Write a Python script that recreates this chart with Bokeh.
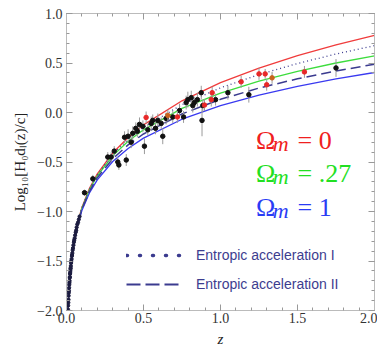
from bokeh.plotting import figure
from bokeh.models import (Range1d, LinearAxis, Label, Legend, LegendItem,
                          CustomJSTickFormatter, SingleIntervalTicker, ColumnDataSource)
from bokeh.embed import file_html
from bokeh.resources import INLINE

# ---- model curves ----
z_curve = [0.01, 0.015, 0.02, 0.03, 0.04, 0.05, 0.07, 0.1, 0.15, 0.2, 0.3, 0.4, 0.5,
           0.75, 1.0, 1.25, 1.5, 1.75, 2.0]
red_curve = [-1.996, -1.817, -1.690, -1.510, -1.381, -1.280, -1.126, -0.959, -0.763, -0.620,
             -0.409, -0.252, -0.125, 0.118, 0.301, 0.449, 0.574, 0.682, 0.778]
green_curve = [-1.997, -1.819, -1.692, -1.513, -1.384, -1.284, -1.132, -0.968, -0.777, -0.639,
               -0.438, -0.291, -0.175, 0.041, 0.196, 0.317, 0.416, 0.500, 0.571]
blue_curve = [-1.999, -1.822, -1.697, -1.520, -1.394, -1.296, -1.148, -0.990, -0.809, -0.680,
              -0.495, -0.363, -0.259, -0.068, 0.069, 0.176, 0.264, 0.339, 0.404]
ent1_curve = [-1.996, -1.818, -1.691, -1.511, -1.383, -1.282, -1.129, -0.963, -0.770, -0.629,
              -0.423, -0.272, -0.150, 0.079, 0.249, 0.383, 0.495, 0.591, 0.675]
ent2_curve = [-1.998, -1.821, -1.695, -1.516, -1.389, -1.290, -1.140, -0.979, -0.793, -0.659,
              -0.467, -0.327, -0.217, -0.014, 0.133, 0.247, 0.340, 0.419, 0.488]

# ---- data points ----
z_low = [0.010, 0.011, 0.012, 0.013, 0.014, 0.015, 0.016, 0.017, 0.018, 0.019, 0.020, 0.021,
         0.022, 0.023, 0.024, 0.025, 0.026, 0.027, 0.028, 0.030, 0.031, 0.033, 0.035, 0.036,
         0.038, 0.040, 0.042, 0.045, 0.048, 0.050, 0.053, 0.056, 0.060, 0.063, 0.066, 0.070,
         0.075, 0.080, 0.085]
v_low = [-1.99, -1.95, -1.92, -1.89, -1.85, -1.82, -1.80, -1.77, -1.74, -1.72, -1.70, -1.67,
         -1.66, -1.63, -1.62, -1.60, -1.58, -1.57, -1.55, -1.52, -1.50, -1.48, -1.45, -1.44,
         -1.42, -1.39, -1.37, -1.34, -1.31, -1.29, -1.27, -1.24, -1.21, -1.19, -1.16, -1.13,
         -1.11, -1.08, -1.05]
e_low = [0.02] * len(z_low)

z_black = [0.117, 0.171, 0.268, 0.29, 0.31, 0.333, 0.34, 0.388, 0.377, 0.40, 0.42, 0.43, 0.45,
           0.46, 0.474, 0.496, 0.506, 0.528, 0.55, 0.56, 0.578, 0.593, 0.615, 0.625, 0.647,
           0.69, 0.734, 0.76, 0.777, 0.788, 0.81, 0.82, 0.83, 0.85, 0.875, 0.885, 0.88, 0.968,
           1.048, 1.184, 1.75]
v_black = [-0.81, -0.67, -0.45, -0.45, -0.39, -0.50, -0.53, -0.48, -0.25, -0.24, -0.30, -0.21,
           -0.16, -0.19, -0.12, -0.14, -0.34, -0.175, -0.11, -0.08, -0.16, -0.08, -0.11, -0.24,
           -0.06, -0.045, 0.02, -0.045, 0.10, 0.13, 0.15, 0.07, 0.10, 0.13, 0.20, 0.07, -0.08,
           0.13, 0.20, 0.18, 0.45]
e_black = [0.03, 0.04, 0.05, 0.05, 0.05, 0.05, 0.05, 0.06, 0.06, 0.07, 0.06, 0.07, 0.06, 0.06,
           0.07, 0.06, 0.08, 0.06, 0.07, 0.06, 0.06, 0.07, 0.06, 0.08, 0.06, 0.06, 0.07, 0.06,
           0.07, 0.08, 0.07, 0.07, 0.06, 0.07, 0.07, 0.06, 0.16, 0.06, 0.07, 0.08, 0.09]

z_red = [0.517, 0.72, 0.896, 0.94, 0.946, 1.134, 1.25, 1.29, 1.30, 1.545]
v_red = [-0.05, -0.045, 0.075, 0.13, 0.20, 0.31, 0.39, 0.39, 0.28, 0.41]
e_red = [0.06, 0.06, 0.06, 0.07, 0.06, 0.06, 0.06, 0.05, 0.06, 0.06]

z_orange = [0.658, 1.335]
v_orange = [-0.03, 0.35]
e_orange = [0.06, 0.06]

SERIF = "Liberation Serif"
SANS = "Liberation Sans"

p = figure(width=377, height=349, x_range=Range1d(0, 2), y_range=Range1d(-2, 1),
           output_backend="svg", toolbar_location=None,
           min_border_left=66, min_border_right=3, min_border_top=13, min_border_bottom=28)
p.background_fill_color = "white"
p.border_fill_color = "white"
p.grid.visible = False
p.outline_line_color = "#bbbbbb"

fmt = CustomJSTickFormatter(code="return tick.toFixed(1).replace('-', '\\u2212');")
blank = CustomJSTickFormatter(code="return '';")

for ax in (p.xaxis[0], p.yaxis[0]):
    ax.ticker = SingleIntervalTicker(interval=0.5, num_minor_ticks=5)
    ax.formatter = fmt
    ax.major_label_text_font = SERIF
    ax.major_label_text_font_size = "14px"
    ax.major_label_text_color = "#333333"
    ax.axis_line_color = "#bbbbbb"
    ax.major_tick_line_color = "#999999"
    ax.minor_tick_line_color = "#999999"
    ax.major_tick_in = 6
    ax.major_tick_out = 0
    ax.minor_tick_in = 3
    ax.minor_tick_out = 0
    ax.axis_label_text_font = SERIF
    ax.axis_label_text_font_style = "normal"
    ax.axis_label_text_color = "#222222"
    ax.axis_label_text_font_size = "15px"

p.xaxis[0].major_label_standoff = 2
p.xaxis[0].axis_label = "z"
p.xaxis[0].axis_label_standoff = 5
p.xaxis[0].axis_label_text_font_style = "italic"
p.yaxis[0].major_label_standoff = 4
p.yaxis[0].axis_label = "Log₁₀[H₀dₗ(z)/c]"
p.yaxis[0].axis_label_standoff = 6

for loc in ("right", "above"):
    ax = LinearAxis(ticker=SingleIntervalTicker(interval=0.5, num_minor_ticks=5),
                    formatter=blank, axis_line_color="#bbbbbb",
                    major_tick_line_color="#999999", minor_tick_line_color="#999999",
                    major_tick_in=6, major_tick_out=0, minor_tick_in=3, minor_tick_out=0,
                    major_label_text_font_size="1px", major_label_standoff=0)
    p.add_layout(ax, loc)

# curves
p.line(z_curve, red_curve, line_color="#f03c3c", line_width=1.3)
p.line(z_curve, green_curve, line_color="#3ddc3d", line_width=1.3)
p.line(z_curve, blue_curve, line_color="#3a3af0", line_width=1.3)
p.line(z_curve, ent1_curve, line_color="#3b3b8f", line_width=1.3, line_dash="1 3")
p.line(z_curve, ent2_curve, line_color="#3b3b8f", line_width=1.5, line_dash="10 5")

# error bars and points
def add_points(zs, vs, es, color, size):
    src = ColumnDataSource(dict(x=zs, y=vs,
                                lo=[v - e for v, e in zip(vs, es)],
                                hi=[v + e for v, e in zip(vs, es)]))
    p.segment(x0="x", y0="lo", x1="x", y1="hi", source=src, line_color="#9a9a9a", line_width=1)
    p.scatter(x="x", y="y", source=src, size=size, marker="circle", fill_color=color,
              line_color=color)

add_points(z_low, v_low, e_low, "#1c1c40", 3.2)
add_points(z_black, v_black, e_black, "#111111", 4.5)
add_points(z_red, v_red, e_red, "#e82828", 4.5)
add_points(z_orange, v_orange, e_orange, "#c8641e", 4.5)

# legend sample renderers (no visible data of their own)
nan = float("nan")
leg1 = p.line([nan, nan], [nan, nan], line_color="#3b3b8f", line_width=3.5,
              line_dash="1 12", line_cap="round")
leg2 = p.line([nan, nan], [nan, nan], line_color="#3b3b8f", line_width=1.8,
              line_dash="14 5")
legend = Legend(items=[LegendItem(label="Entropic acceleration I", renderers=[leg1]),
                       LegendItem(label="Entropic acceleration II", renderers=[leg2])],
                location=(60, 16), orientation="vertical",
                glyph_width=56, glyph_height=20, label_height=20, spacing=9,
                label_standoff=14, padding=0, margin=0,
                border_line_color=None, background_fill_alpha=0,
                label_text_font=SANS, label_text_font_size="14px",
                label_text_color="#3d3d8f")
p.add_layout(legend, "center")

# Omega labels
omega = [("0", "#f02020", -0.285), (".27", "#22e022", -0.615), ("1", "#2a3cf5", -0.96)]
for txt, col, yb in omega:
    p.add_layout(Label(x=1.23, y=yb, text="Ω", text_color=col, text_font=SERIF,
                       text_font_size="26px", text_baseline="alphabetic"))
    p.add_layout(Label(x=1.34, y=yb - 0.03, text="m", text_color=col, text_font=SERIF,
                       text_font_style="italic", text_font_size="22px",
                       text_baseline="alphabetic"))
    p.add_layout(Label(x=1.50, y=yb, text="= " + txt, text_color=col, text_font=SERIF,
                       text_font_size="26px", text_baseline="alphabetic"))

open("out.html", "w").write(file_html(p, INLINE))
